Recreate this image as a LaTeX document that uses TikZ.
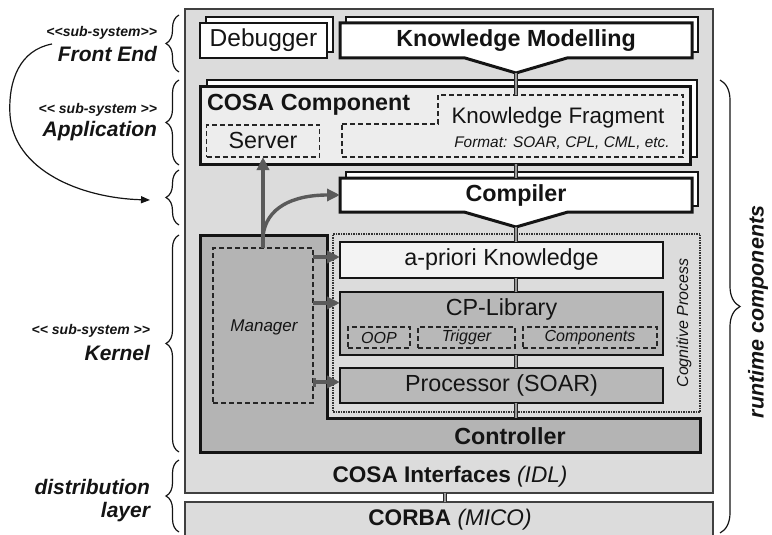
\documentclass[tikz,border=0pt]{standalone}
\usepackage{fontspec}
\setmainfont{Liberation Sans}
\usetikzlibrary{arrows.meta,decorations.pathreplacing}

\definecolor{panel}{HTML}{DCDCDC}
\definecolor{compfill}{HTML}{EDEDED}
\definecolor{ctrlfill}{HTML}{B4B4B4}
\definecolor{libfill}{HTML}{B8B8B8}
\definecolor{aprfill}{HTML}{F3F3F3}
\definecolor{ink}{HTML}{141414}
\definecolor{mgrgray}{HTML}{5A5A5A}

\newcommand\szL{\fontsize{23.3}{27}\selectfont}
\newcommand\szK{\fontsize{22.4}{26}\selectfont}
\newcommand\szI{\fontsize{22.6}{26}\selectfont}
\newcommand\szD{\fontsize{24.5}{28}\selectfont}
\newcommand\szS{\fontsize{16}{19}\selectfont}
\newcommand\szF{\fontsize{15.4}{18}\selectfont}
\newcommand\szT{\fontsize{14}{17}\selectfont}
\newcommand\szLab{\fontsize{21}{25}\selectfont}
\newcommand\stereo[1]{<\kern0pt<#1>\kern0pt>}

\begin{document}
\begin{tikzpicture}[x=1pt,y=-1pt,
  every node/.style={inner sep=0pt,outer sep=0pt,text=ink},
  layer/.style={draw=black!75,line width=1.5pt,fill=panel},
  backbox/.style={draw=ink,line width=1.3pt,fill=white},
  frontbox/.style={draw=ink,line width=3pt,fill=white},
  plainbox/.style={draw=ink,line width=1.8pt},
  dashbox/.style={draw=black!85,line width=1.3pt,dash pattern=on 5pt off 3pt},
  link/.style={draw=black!85,line width=1.4pt,double=black!40,double distance=1.5pt},
  mgrarrow/.style={draw=mgrgray,line width=3.4pt,-{Triangle[length=13pt,width=12pt]}},
  mgrbar/.style={draw=mgrgray,line width=3.4pt,{Bar[width=9pt]}-{Triangle[length=13pt,width=12pt]}},
  brc/.style={draw=ink,line width=1.2pt,decorate,decoration={brace,amplitude=#1}},
  lab/.style={anchor=east,font=\szLab\bfseries\itshape},
  stlab/.style={anchor=east,font=\szT\bfseries\itshape}
]
\useasboundingbox (0,0) rectangle (772,535);

% system frame and CORBA layer
\node[layer,minimum width=528pt,minimum height=484pt] (sys) at (449,251) {};
\node[layer,minimum width=528pt,minimum height=40pt] (corba) at (449,522) {};

% front end
\node[backbox,minimum width=127pt,minimum height=35pt] (dbgback) at (269.5,34.5) {};
\node[backbox,line width=1.8pt,minimum width=127pt,minimum height=35pt] (dbg) at (263.5,40.5) {};
\node (dbgtxt) at (263.5,40.5) {\szD Debugger};

\node[backbox,minimum width=352pt,minimum height=35pt] (kmback) at (522,34.5) {};
\node[minimum width=352pt,minimum height=35pt] (km) at (516,40.5) {};
\draw[frontbox] (km.north west) -- (km.north east) -- (km.south east) -- (567,58)
  -- (516,73) coordinate (kmtip) -- (465,58) -- (km.south west) -- cycle;
\node (kmtxt) at (516,40.5) {\szL\bfseries Knowledge Modelling};

% application
\node[backbox,minimum width=490pt,minimum height=77pt] (cosaback) at (452,118.5) {};
\node[frontbox,fill=compfill,minimum width=490pt,minimum height=77pt] (cosa) at (445,125.5) {};
\node[anchor=west] (cosatxt) at (207,105) {\szL\bfseries COSA Component};
\draw[dashbox] (342,124) -- (438,124) -- (438,95) coordinate (kfcorner) -- (683,95)
  -- (683,157) -- (342,157) -- cycle;
\coordinate (kftop) at (516,95);
\node (kf) at (558,118) {\szK Knowledge Fragment};
\node (kffmt) at (562,143) {\szF\itshape Format: SOAR, CPL, CML, etc.};
\node[dashbox,minimum width=113pt,minimum height=32pt] (srv) at (263,141) {};
\node (srvtxt) at (263,140) {\szL Server};

% compiler
\node[backbox,minimum width=352pt,minimum height=34pt] (cmpback) at (522,189) {};
\node[minimum width=352pt,minimum height=34pt] (cmp) at (516,195) {};
\draw[frontbox] (cmp.north west) -- (cmp.north east) -- (cmp.south east) -- (568,212)
  -- (516,227) coordinate (cmptip) -- (464,212) -- (cmp.south west) -- cycle;
\node (cmptxt) at (516,195) {\szL\bfseries Compiler};

% kernel: controller and cognitive process
\node[draw=black!80,line width=1.5pt,densely dotted,minimum width=367pt,minimum height=178pt] (cog) at (516.5,323) {};
\draw[draw=ink,line width=3pt,fill=ctrlfill] (200,235) -- (327,235) -- (327,418)
  -- (700,418) -- (700,452) -- (200,452) -- cycle;
\coordinate (ctrltop) at (516,418);
\node (ctrl) at (510,436) {\szL\bfseries Controller};

\node[dashbox,minimum width=100pt,minimum height=155pt] (mgr) at (263,325.5) {};
\node (mgrtxt) at (264,327) {\fontsize{17}{20}\selectfont\itshape Manager};

\node[plainbox,fill=aprfill,minimum width=323pt,minimum height=36pt] (apr) at (501.5,260) {};
\node (aprtxt) at (501.5,259) {\szL a-priori Knowledge};
\node[plainbox,fill=libfill,minimum width=323pt,minimum height=63pt] (cpl) at (501.5,323.5) {};
\node (cpltxt) at (501.5,309) {\szL CP-Library};
\node[dashbox,minimum width=62pt,minimum height=21pt] (oop) at (379,337.5) {};
\node[dashbox,minimum width=97pt,minimum height=21pt] (trig) at (466.5,337.5) {};
\node[dashbox,minimum width=134pt,minimum height=21pt] (comps) at (590,337.5) {};
\node (ooptxt) at (379,337.5) {\szS\itshape OOP};
\node (trigtxt) at (466.5,337.5) {\szS\itshape Trigger};
\node (compstxt) at (590,337.5) {\szS\itshape Components};
\node[plainbox,fill=libfill,minimum width=323pt,minimum height=35pt] (proc) at (501.5,385.5) {};
\node (proctxt) at (501.5,385.5) {\szL Processor (SOAR)};
\node[rotate=90] (cogtxt) at (684,323) {\szS\itshape Cognitive Process};

% knowledge flow links
\draw[link] (kmtip) -- (kftop);
\draw[link] (cosa.south -| cmptip) -- (cmp.north);
\draw[link] (cmptip) -- (apr.north -| cmptip);
\draw[link] (apr.south -| cmptip) -- (cpl.north -| cmptip);
\draw[link] (cpl.south -| cmptip) -- (proc.north -| cmptip);
\draw[link] (proc.south -| cmptip) -- (ctrltop);
\draw[link] (sys.south -| 445,0) -- (corba.north -| 445,0);

% manager control arrows
\coordinate (fork) at (263,236);
\draw[mgrarrow] (mgr.north) -- (srv.south);
\draw[mgrarrow] (fork) .. controls (266,208) and (292,195) .. (cmp.west);
\draw[mgrarrow] (mgr.east |- 0,257) -- (apr.west |- 0,257);
\draw[mgrarrow] (mgr.east |- 0,303) -- (cpl.west |- 0,303);
\draw[mgrbar] (mgr.east |- 0,382) -- (proc.west |- 0,382);

% interface layers
\node (idl) at (450,477) {\szI\bfseries COSA Interfaces \mdseries\itshape(IDL)};
\node (mico) at (450,520) {\szI\bfseries CORBA \mdseries\itshape(MICO)};

% layer braces and labels
\draw[brc=13pt] (179,72) -- (179,15);
\draw[brc=13pt] (179,165) -- (179,80);
\draw[brc=13pt] (179,225) -- (179,170);
\draw[brc=13pt] (179,452) -- (179,235);
\draw[brc=13pt] (179,532) -- (179,460);
\draw[brc=20pt] (720,80) -- (720,533);

\node[stlab] (fest) at (157,33) {\stereo{sub-system}};
\node[lab] (fe) at (157,54) {Front End};
\node[stlab] (apst) at (157,110) {\stereo{\ sub-system\ }};
\node[lab] (app) at (157,131) {Application};
\node[stlab] (knst) at (150,331) {\stereo{\ sub-system\ }};
\node[lab] (kn) at (150,353) {Kernel};
\node[lab] (dist) at (150,487) {distribution};
\node[lab] (lay) at (150,512) {layer};
\node[rotate=90,font=\fontsize{21.5}{25}\selectfont\bfseries\itshape] (rtc) at (758,312) {runtime components};

% sub-system hand-over arrow
\coordinate (hstart) at (52,44);
\coordinate (hend) at (150,200);
\draw[ink,line width=1.2pt,-{Triangle[length=9pt,width=7pt]}] (hstart)
  .. controls (20,50) and (8,80) .. (10,115)
  .. controls (14,170) and (80,198) .. (hend);
\end{tikzpicture}
\end{document}
